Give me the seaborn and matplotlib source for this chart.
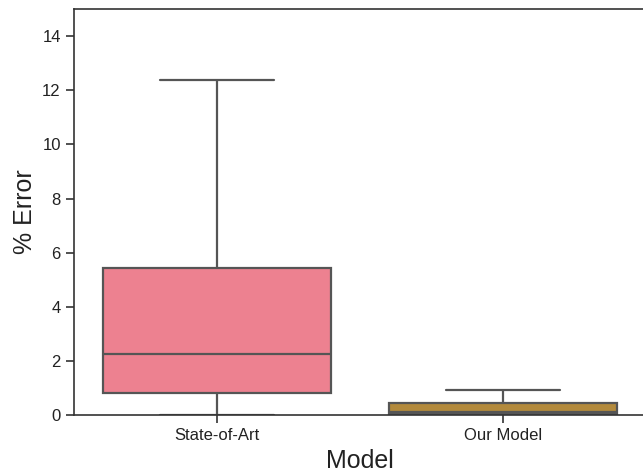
import numpy as np
import pandas as pd
import matplotlib
matplotlib.use("Agg")
import matplotlib.pyplot as plt
import seaborn as sns

# values (min, q1, median, q3, max per model)
models = ["State-of-Art", "Our Model"]
state_of_art_err = [0.0, 0.83, 2.25, 5.43, 12.37]
our_model_err = [0.0, 0.05, 0.13, 0.44, 0.93]
box_colors = ["#ed8190", "#b38a3c"]

df = pd.DataFrame({
    "Model": [models[0]] * len(state_of_art_err) + [models[1]] * len(our_model_err),
    "% Error": state_of_art_err + our_model_err,
})

sns.set_style("ticks")
plt.rcParams["font.family"] = ["Liberation Sans", "DejaVu Sans"]

fig = plt.figure(figsize=(6.43, 4.75), dpi=100)
# the original is cropped on the right, so the axes run past the figure edge
ax = fig.add_axes([0.115, 0.126, 0.8896, 0.855])

sns.boxplot(data=df, x="Model", y="% Error", hue="Model", palette=box_colors,
            saturation=1, legend=False, whis=np.inf, linecolor="#555555",
            linewidth=1.6, width=0.8, ax=ax)

ax.set_ylim(0, 15)
ax.set_yticks(np.arange(0, 15, 2))
ax.set_xlabel("Model", fontsize=18, color="#222222")
ax.set_ylabel("% Error", fontsize=18, color="#222222")
ax.tick_params(axis="both", labelsize=12, color="#333333", labelcolor="#222222",
               length=6, width=1.2)
for s in ax.spines.values():
    s.set_color("#333333")
    s.set_linewidth(1.2)

fig.savefig("out.png", dpi=100)
